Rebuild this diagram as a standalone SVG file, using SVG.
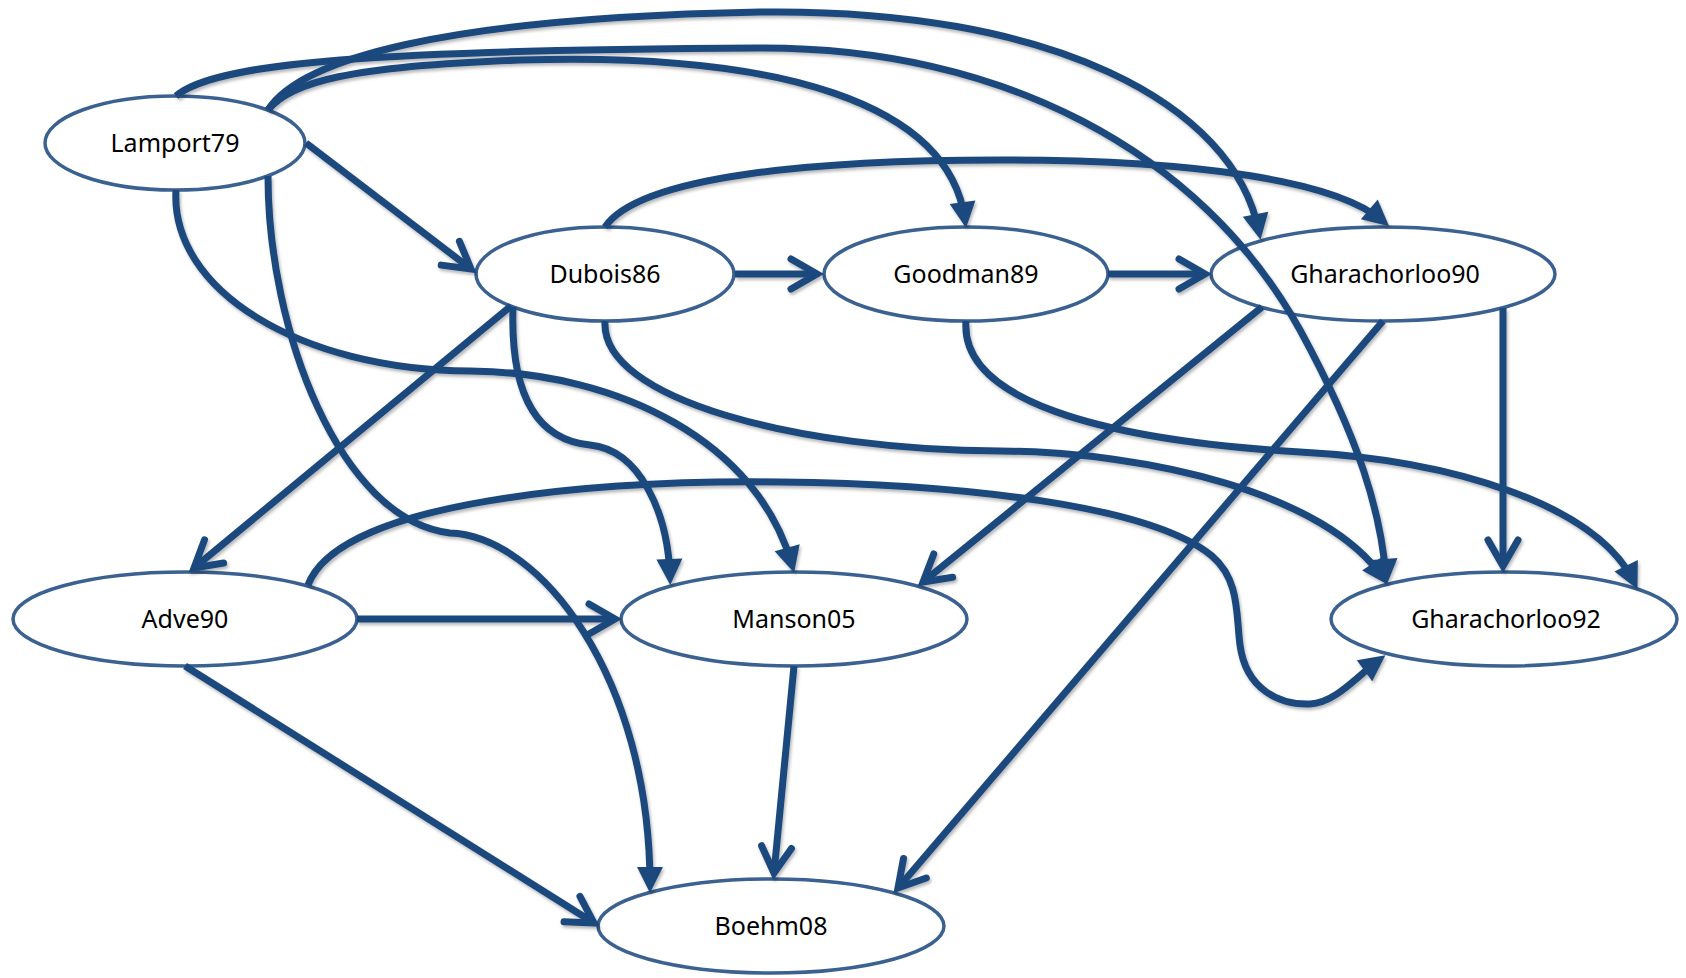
<svg xmlns="http://www.w3.org/2000/svg" width="1686" height="978" viewBox="0 0 1686 978">
  <style>
    .node ellipse { fill: #ffffff; stroke: #3b6191; stroke-width: 3.5; }
    .node text { font-family: "Noto Sans", "Open Sans", sans-serif; font-size: 25px; fill: #000000; text-anchor: middle; }
    .edge { fill: none; stroke: #1f497d; stroke-width: 7; stroke-linecap: butt; stroke-linejoin: round; }
    .open { marker-end: url(#vhead); }
    .solid { marker-end: url(#tri); }
  </style>
  <defs>
    <!-- open V arrowhead used on straight connectors -->
    <marker id="vhead" markerUnits="userSpaceOnUse" viewBox="0 0 40 40" markerWidth="40" markerHeight="40" refX="32" refY="20" orient="auto">
      <path d="M6,5 L32,20 L6,35" fill="none" stroke="#1f497d" stroke-width="7" stroke-linecap="round" stroke-linejoin="miter"/>
    </marker>
    <!-- filled triangle arrowhead used on curved connectors -->
    <marker id="tri" markerUnits="userSpaceOnUse" viewBox="0 0 28 28" markerWidth="28" markerHeight="28" refX="19" refY="14" orient="auto">
      <path d="M1,1 L27,14 L1,27 Z" fill="#1f497d"/>
    </marker>
    <filter id="shade" x="-5%" y="-5%" width="110%" height="110%">
      <feDropShadow dx="1.5" dy="2.5" stdDeviation="1.5" flood-color="#000000" flood-opacity="0.28"/>
    </filter>
  </defs>

  <rect width="1686" height="978" fill="#ffffff"/>

  <!-- nodes -->
  <g id="node-lamport79" class="node">
    <ellipse cx="175" cy="143" rx="130" ry="47"/>
    <text x="175" y="152">Lamport79</text>
  </g>
  <g id="node-dubois86" class="node">
    <ellipse cx="605" cy="274" rx="129" ry="47"/>
    <text x="605" y="283">Dubois86</text>
  </g>
  <g id="node-goodman89" class="node">
    <ellipse cx="966" cy="274" rx="142" ry="47"/>
    <text x="966" y="283">Goodman89</text>
  </g>
  <g id="node-gharachorloo90" class="node">
    <ellipse cx="1383" cy="274" rx="172" ry="47"/>
    <text x="1385" y="283">Gharachorloo90</text>
  </g>
  <g id="node-adve90" class="node">
    <ellipse cx="185" cy="619" rx="172" ry="47"/>
    <text x="185" y="628">Adve90</text>
  </g>
  <g id="node-manson05" class="node">
    <ellipse cx="794" cy="619" rx="173" ry="47"/>
    <text x="794" y="628">Manson05</text>
  </g>
  <g id="node-gharachorloo92" class="node">
    <ellipse cx="1504" cy="619" rx="173" ry="47"/>
    <text x="1506" y="628">Gharachorloo92</text>
  </g>
  <g id="node-boehm08" class="node">
    <ellipse cx="771" cy="926" rx="173" ry="47"/>
    <text x="771" y="935">Boehm08</text>
  </g>

  <!-- connectors -->
  <g id="connectors" filter="url(#shade)">
    <!-- straight connectors -->
    <path id="e-lamport-dubois" class="edge open" d="M306,143 L471,269"/>
    <path id="e-dubois-goodman" class="edge open" d="M735,274 L817,274"/>
    <path id="e-goodman-gh90" class="edge open" d="M1108,274 L1205,274"/>
    <path id="e-adve-manson" class="edge open" d="M357,619 L615,619"/>
    <path id="e-gh90-gh92" class="edge open" d="M1503,308 L1503,566"/>
    <path id="e-manson-boehm" class="edge open" d="M794,666 L774,873"/>
    <path id="e-adve-boehm" class="edge open" d="M185,666 L594,923"/>
    <path id="e-gh90-boehm" class="edge open" d="M1383,321 L898,888"/>
    <path id="e-gh90-manson" class="edge open" d="M1262,307 L923,582"/>
    <path id="e-dubois-adve" class="edge open" d="M511,306 L194,568"/>

    <!-- curved connectors -->
    <path id="e-lamport-manson" class="edge solid" d="M176,190 C 170,290 300,370 470,371 C 620,372 758,443 792,565"/>
    <path id="e-lamport-boehm" class="edge solid" d="M268,176 C 268,330 340,520 450,533 C 540,536 650,677 650,885"/>
    <path id="e-dubois-manson" class="edge solid" d="M513,307 C 510,400 540,440 590,445 C 640,450 668,513 670,577"/>
    <path id="e-dubois-gh90" class="edge solid" d="M605,227 C 640,175 820,160 1000,160 C 1200,160 1336,181 1383,221"/>
    <path id="e-dubois-gh92" class="edge solid" d="M605,321 C 600,400 800,450 1000,451 C 1150,452 1326,494 1383,578"/>
    <path id="e-goodman-gh92" class="edge solid" d="M966,321 C 960,400 1100,440 1300,452 C 1450,460 1596,504 1634,582"/>
    <path id="e-adve-gh92" class="edge solid" d="M308,585 C 340,500 600,480 780,482 C 960,484 1150,505 1212,556 C 1240,580 1236,615 1240,645 C 1246,690 1280,705 1310,704 C 1335,703 1356,677 1379,660"/>
    <path id="e-lamport-gh92" class="edge solid" d="M176,96 C 215,62 380,50 760,48 C 1000,47 1200,150 1300,330 C 1360,440 1381,513 1386,577"/>
    <path id="e-lamport-gh90" class="edge solid" d="M268,110 C 300,60 440,18 760,12 C 1050,8 1234,103 1259,232"/>
    <path id="e-lamport-goodman" class="edge solid" d="M268,110 C 290,82 350,66 520,60 C 780,52 949,103 965,220"/>
  </g>
</svg>
